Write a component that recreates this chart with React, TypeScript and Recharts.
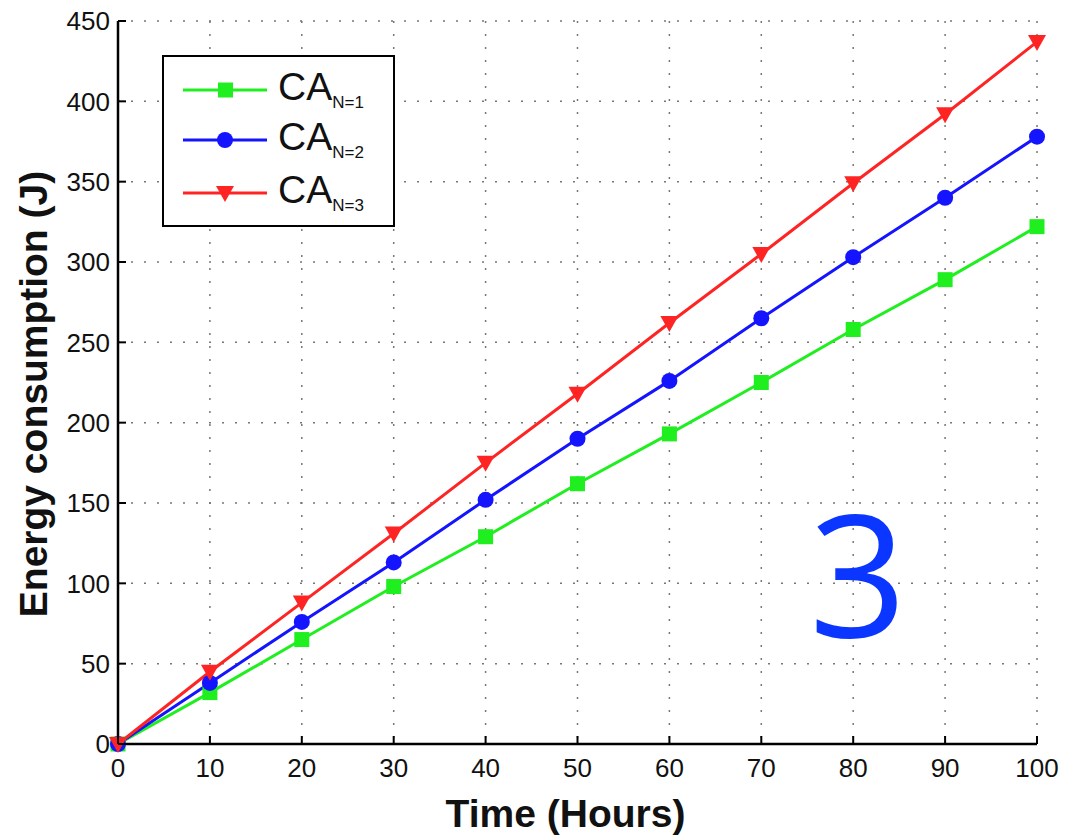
import React from "react";
import {
  LineChart,
  Line,
  XAxis,
  YAxis,
  CartesianGrid,
  Legend,
  Label,
} from "recharts";

const hours = [0, 10, 20, 30, 40, 50, 60, 70, 80, 90, 100];
const caN1 = [0, 32, 65, 98, 129, 162, 193, 225, 258, 289, 322];
const caN2 = [0, 38, 76, 113, 152, 190, 226, 265, 303, 340, 378];
const caN3 = [0, 45, 88, 131, 175, 218, 262, 305, 349, 392, 437];
const xTicks = [0, 10, 20, 30, 40, 50, 60, 70, 80, 90, 100];
const yTicks = [0, 50, 100, 150, 200, 250, 300, 350, 400, 450];
const seriesNames = ["N=1", "N=2", "N=3"];

const data = hours.map((t, i) => ({ t, a: caN1[i], b: caN2[i], c: caN3[i] }));

const FONT = "'Liberation Sans', Arial, Helvetica, sans-serif";
const GREEN = "#1fef1f";
const BLUE = "#1414ff";
const RED = "#ff2424";

const XTickBottom = (props: any) => {
  const { x, y, payload } = props;
  return (
    <g>
      <line x1={x} x2={x} y1={y} y2={y - 8} stroke="#000" strokeWidth={2} />
      <text x={x} y={y + 33} textAnchor="middle" fontSize={26} fill="#111" fontFamily={FONT}>
        {payload.value}
      </text>
    </g>
  );
};

const XTickTop = (props: any) => {
  const { x, y } = props;
  return <line x1={x} x2={x} y1={y} y2={y + 8} stroke="#000" strokeWidth={2} />;
};

const YTickLeft = (props: any) => {
  const { x, y, payload } = props;
  return (
    <g>
      <line x1={x} x2={x + 8} y1={y} y2={y} stroke="#000" strokeWidth={2} />
      <text x={x - 8} y={y} dy="0.36em" textAnchor="end" fontSize={26} fill="#111" fontFamily={FONT}>
        {payload.value}
      </text>
    </g>
  );
};

const YTickRight = (props: any) => {
  const { x, y } = props;
  return <line x1={x} x2={x - 8} y1={y} y2={y} stroke="#000" strokeWidth={2} />;
};

const SquareDot = (props: any) => {
  const { cx, cy } = props;
  if (cx == null || cy == null) return null;
  return <rect x={cx - 7.5} y={cy - 7.5} width={15} height={15} fill={GREEN} />;
};

const CircleDot = (props: any) => {
  const { cx, cy } = props;
  if (cx == null || cy == null) return null;
  return <circle cx={cx} cy={cy} r={8} fill={BLUE} />;
};

const TriangleDot = (props: any) => {
  const { cx, cy } = props;
  if (cx == null || cy == null) return null;
  return (
    <polygon
      points={`${cx - 9},${cy - 7} ${cx + 9},${cy - 7} ${cx},${cy + 9}`}
      fill={RED}
    />
  );
};

const LegendContent = () => {
  const rows = [
    { color: GREEN, marker: "square", y: 33 },
    { color: BLUE, marker: "circle", y: 83 },
    { color: RED, marker: "tri", y: 136 },
  ];
  return (
    <div
      style={{
        width: 233,
        height: 172,
        border: "2px solid #000",
        boxSizing: "border-box",
        background: "#fff",
      }}
    >
      <svg width={229} height={168} style={{ display: "block" }}>
        {rows.map((r, i) => (
          <g key={i}>
            <line x1={19} x2={103} y1={r.y} y2={r.y} stroke={r.color} strokeWidth={3} />
            {r.marker === "square" && (
              <rect x={54} y={r.y - 7.5} width={15} height={15} fill={r.color} />
            )}
            {r.marker === "circle" && <circle cx={61} cy={r.y} r={8} fill={r.color} />}
            {r.marker === "tri" && (
              <polygon
                points={`${52},${r.y - 7} ${70},${r.y - 7} ${61},${r.y + 9}`}
                fill={r.color}
              />
            )}
            <text x={114} y={r.y + 10} fontFamily={FONT} fontSize={39} fill="#111">
              <tspan>CA</tspan>
              <tspan dy={8} fontSize={17}>
                {seriesNames[i]}
              </tspan>
            </text>
          </g>
        ))}
      </svg>
    </div>
  );
};

const XLabelContent = (props: any) => {
  const vb = props.viewBox || { x: 118, y: 744, width: 919, height: 96 };
  return (
    <text
      x={vb.x + vb.width / 2 - 12}
      y={827}
      textAnchor="middle"
      fontFamily={FONT}
      fontWeight="bold"
      fontSize={39}
      fill="#111"
    >
      Time (Hours)
    </text>
  );
};

const YLabelContent = () => {
  return (
    <text
      x={0}
      y={0}
      transform="translate(47, 394) rotate(-90)"
      textAnchor="middle"
      fontFamily={FONT}
      fontWeight="bold"
      fontSize={39}
      fill="#111"
    >
      Energy consumption (J)
    </text>
  );
};

export default function App() {
  return (
    <div style={{ position: "absolute", left: 0, top: 0, width: 1065, height: 840, background: "#fff" }}>
      <LineChart
        width={1065}
        height={840}
        data={data}
        margin={{ top: 21, right: 28, left: 0, bottom: 0 }}
      >
        <CartesianGrid stroke="#777" strokeWidth={1.5} strokeDasharray="2 11" />
        <XAxis
          dataKey="t"
          type="number"
          domain={[0, 100]}
          ticks={xTicks}
          interval={0}
          height={96}
          tickSize={0}
          tickMargin={0}
          tickLine={false}
          tick={<XTickBottom />}
          axisLine={{ stroke: "#000", strokeWidth: 2.5 }}
        >
          <Label content={<XLabelContent />} />
        </XAxis>
        <XAxis
          xAxisId="top"
          dataKey="t"
          type="number"
          orientation="top"
          domain={[0, 100]}
          ticks={xTicks}
          interval={0}
          height={0}
          tickSize={0}
          tickMargin={0}
          tickLine={false}
          tick={<XTickTop />}
          axisLine={{ stroke: "#000", strokeWidth: 2.5 }}
        />
        <YAxis
          type="number"
          domain={[0, 450]}
          ticks={yTicks}
          interval={0}
          width={118}
          tickSize={0}
          tickMargin={0}
          tickLine={false}
          tick={<YTickLeft />}
          axisLine={{ stroke: "#000", strokeWidth: 2.5 }}
        >
          <Label content={<YLabelContent />} />
        </YAxis>
        <YAxis
          yAxisId="right"
          orientation="right"
          type="number"
          domain={[0, 450]}
          ticks={yTicks}
          interval={0}
          width={0}
          tickSize={0}
          tickMargin={0}
          tickLine={false}
          tick={<YTickRight />}
          axisLine={{ stroke: "#000", strokeWidth: 2.5 }}
        />
        <Legend
          layout="vertical"
          align="center"
          verticalAlign="middle"
          content={<LegendContent />}
          wrapperStyle={{ left: 162, top: 55, width: 233, height: 172 }}
        />
        <Line
          type="linear"
          dataKey="a"
          name="CA N=1"
          stroke={GREEN}
          strokeWidth={3}
          dot={<SquareDot />}
          isAnimationActive={false}
        />
        <Line
          type="linear"
          dataKey="b"
          name="CA N=2"
          stroke={BLUE}
          strokeWidth={3}
          dot={<CircleDot />}
          isAnimationActive={false}
        />
        <Line
          type="linear"
          dataKey="c"
          name="CA N=3"
          stroke={RED}
          strokeWidth={3}
          dot={<TriangleDot />}
          isAnimationActive={false}
        />
      </LineChart>
      <svg
        width={1065}
        height={840}
        style={{ position: "absolute", left: 0, top: 0, pointerEvents: "none" }}
      >
        <text
          x={858}
          y={637}
          textAnchor="middle"
          fontFamily="'Open Sans', 'Noto Sans', sans-serif"
          fontSize={171}
          fill="#0a36ff"
        >
          3
        </text>
      </svg>
    </div>
  );
}
